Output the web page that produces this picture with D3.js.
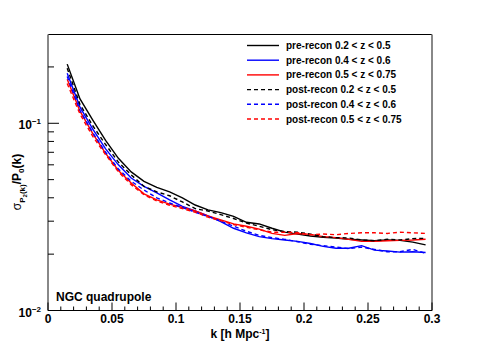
<!DOCTYPE html>
<html>
<head>
<meta charset="utf-8">
<script src="https://cdn.jsdelivr.net/npm/d3@7"></script>
<style>
  body { margin: 0; background: #fff; }
  text { font-family: "Liberation Sans", Arial, sans-serif; font-weight: bold; }
</style>
</head>
<body>
<svg id="chart" width="480" height="345"></svg>
<script>
// k bins (h/Mpc)
const kVals = [0.015, 0.025, 0.035, 0.045, 0.055, 0.065, 0.075, 0.085, 0.095, 0.105,
  0.115, 0.125, 0.135, 0.145, 0.155, 0.165, 0.175, 0.185, 0.195, 0.205,
  0.215, 0.225, 0.235, 0.245, 0.255, 0.265, 0.275, 0.285, 0.295];

const preLow = [0.207, 0.135, 0.104, 0.081, 0.065, 0.055, 0.049, 0.0455, 0.043, 0.040,
  0.0366, 0.0345, 0.0333, 0.0318, 0.0296, 0.029, 0.0275, 0.0262, 0.0256, 0.025,
  0.0246, 0.0244, 0.024, 0.0238, 0.0236, 0.0238, 0.0237, 0.0232, 0.0224];
const preMid = [0.185, 0.122, 0.093, 0.073, 0.060, 0.051, 0.046, 0.0425, 0.039, 0.036,
  0.034, 0.032, 0.0298, 0.0275, 0.026, 0.0248, 0.0242, 0.0238, 0.0234, 0.0228,
  0.022, 0.0215, 0.0215, 0.0222, 0.021, 0.0208, 0.0205, 0.0206, 0.0204];
const preHigh = [0.172, 0.116, 0.088, 0.069, 0.056, 0.048, 0.042, 0.039, 0.037, 0.0355,
  0.034, 0.032, 0.0305, 0.029, 0.0282, 0.0272, 0.0258, 0.0252, 0.0258, 0.0255,
  0.0248, 0.0245, 0.024, 0.0234, 0.0234, 0.0236, 0.0237, 0.0238, 0.024];
const postLow = [0.197, 0.126, 0.097, 0.077, 0.062, 0.053, 0.046, 0.043, 0.041, 0.038,
  0.035, 0.034, 0.0325, 0.031, 0.0293, 0.0282, 0.027, 0.0264, 0.0262, 0.0256,
  0.0248, 0.0245, 0.0244, 0.0238, 0.0236, 0.024, 0.0238, 0.0242, 0.0243];
const postMid = [0.178, 0.117, 0.089, 0.070, 0.057, 0.049, 0.044, 0.040, 0.0375, 0.0355,
  0.0335, 0.0318, 0.030, 0.0282, 0.0265, 0.0252, 0.0245, 0.024, 0.0233, 0.0226,
  0.0222, 0.0218, 0.0214, 0.0218, 0.0212, 0.0206, 0.0206, 0.0212, 0.0202];
const postHigh = [0.163, 0.112, 0.085, 0.068, 0.055, 0.047, 0.0415, 0.0385, 0.0365, 0.035,
  0.0335, 0.0315, 0.0302, 0.0288, 0.0278, 0.027, 0.0262, 0.0262, 0.026, 0.0254,
  0.0256, 0.0254, 0.0258, 0.026, 0.026, 0.0258, 0.0262, 0.026, 0.0258];

const seriesNames = ["pre-recon 0.2 < z < 0.5", "pre-recon 0.4 < z < 0.6", "pre-recon 0.5 < z < 0.75",
  "post-recon 0.2 < z < 0.5", "post-recon 0.4 < z < 0.6", "post-recon 0.5 < z < 0.75"];
const seriesValues = [preLow, preMid, preHigh, postLow, postMid, postHigh];
const seriesColors = ["#000000", "#0000ff", "#ff0000", "#000000", "#0000ff", "#ff0000"];
const seriesDashed = [false, false, false, true, true, true];

const xTickVals = [0, 0.05, 0.1, 0.15, 0.2, 0.25, 0.3];

const svg = d3.select("#chart");
const margin = { top: 34.5, right: 48, bottom: 34.5, left: 48 };
const W = 480, H = 345;
const width = W - margin.left - margin.right;
const height = H - margin.top - margin.bottom;

const g = svg.append("g").attr("transform", `translate(${margin.left},${margin.top})`);

const x = d3.scaleLinear().domain([0, 0.3]).range([0, width]);
const y = d3.scaleLog().domain([0.01, 0.298]).range([height, 0]);

// curves
const line = d3.line().x((d) => x(d[0])).y((d) => y(d[1]));
seriesValues.forEach((vals, i) => {
  g.append("path")
    .datum(kVals.map((k, j) => [k, vals[j]]))
    .attr("d", line)
    .attr("fill", "none")
    .attr("stroke", seriesColors[i])
    .attr("stroke-width", 1.4)
    .attr("stroke-dasharray", seriesDashed[i] ? "4,3" : null);
});

// frame
g.append("line").attr("x1", 0).attr("x2", width).attr("y1", 0).attr("y2", 0)
  .attr("stroke", "#000").attr("stroke-width", 1);
g.append("line").attr("x1", width).attr("x2", width).attr("y1", 0).attr("y2", height)
  .attr("stroke", "#888").attr("stroke-width", 2);
g.append("line").attr("x1", 0).attr("x2", 0).attr("y1", 0).attr("y2", height)
  .attr("stroke", "#888").attr("stroke-width", 2);

// x axis: ticks point up into the frame
const xAxis = g.append("g").attr("transform", `translate(0,${height})`);
xAxis.append("line").attr("x1", 0).attr("x2", width).attr("stroke", "#000").attr("stroke-width", 1);
d3.range(0, 31).forEach((i) => {
  const v = i / 100;
  const major = i % 5 === 0;
  xAxis.append("line")
    .attr("x1", x(v)).attr("x2", x(v))
    .attr("y1", 0).attr("y2", major ? -8 : -4)
    .attr("stroke", "#000").attr("stroke-width", 1);
});
xAxis.selectAll("text.tick")
  .data(xTickVals)
  .enter().append("text")
  .attr("x", (d) => x(d))
  .attr("y", 12)
  .attr("text-anchor", "middle")
  .style("font-size", "12px")
  .text((d) => d3.format("")(d));

// y axis: log ticks
const yMinor = [0.02, 0.03, 0.04, 0.05, 0.06, 0.07, 0.08, 0.09, 0.2];
yMinor.forEach((v) => {
  g.append("line").attr("x1", 0).attr("x2", 6).attr("y1", y(v)).attr("y2", y(v))
    .attr("stroke", "#000").attr("stroke-width", 1);
});
g.append("line").attr("x1", 0).attr("x2", 11).attr("y1", y(0.1)).attr("y2", y(0.1))
  .attr("stroke", "#000").attr("stroke-width", 1);

[[0.1, "−1"], [0.01, "−2"]].forEach(([v, exp]) => {
  const t = g.append("text")
    .attr("x", -7)
    .attr("y", y(v) + 6)
    .attr("text-anchor", "end")
    .style("font-size", "12px");
  t.append("tspan").text("10");
  t.append("tspan").attr("dy", -5).style("font-size", "8px").text(exp);
});

// axis titles
g.append("text")
  .attr("x", width / 2)
  .attr("y", height + 27.5)
  .attr("text-anchor", "middle")
  .style("font-size", "12px")
  .call((t) => {
    t.append("tspan").text("k [h Mpc");
    t.append("tspan").attr("dy", -4).style("font-size", "7px").text("-1");
    t.append("tspan").attr("dy", 4).text("]");
  });

const yTitle = svg.append("text")
  .attr("transform", `translate(21,182) rotate(-90)`)
  .attr("text-anchor", "middle")
  .style("font-size", "12px");
yTitle.append("tspan").style("font-weight", "normal").text("σ");
yTitle.append("tspan").attr("dy", 4).style("font-size", "8px").text("P");
yTitle.append("tspan").attr("dy", 2).style("font-size", "6px").text("2");
yTitle.append("tspan").attr("dy", -2).style("font-size", "8px").text("(k)");
yTitle.append("tspan").attr("dy", -4).text("/P");
yTitle.append("tspan").attr("dy", 3).style("font-size", "8px").text("0");
yTitle.append("tspan").attr("dy", -3).text("(k)");

// label
g.append("text")
  .attr("x", 8)
  .attr("y", height - 10)
  .style("font-size", "12px")
  .text("NGC quadrupole");

// legend
const legend = svg.append("g").attr("transform", "translate(247,45.5)");
seriesNames.forEach((name, i) => {
  const row = legend.append("g").attr("transform", `translate(0,${i * 14.7})`);
  row.append("line")
    .attr("x1", 0).attr("x2", 32)
    .attr("stroke", seriesColors[i])
    .attr("stroke-width", 1.4)
    .attr("stroke-dasharray", seriesDashed[i] ? "4,3" : null);
  row.append("text")
    .attr("x", 39)
    .attr("y", 3.5)
    .style("font-size", "10px")
    .text(name);
});
</script>
</body>
</html>
